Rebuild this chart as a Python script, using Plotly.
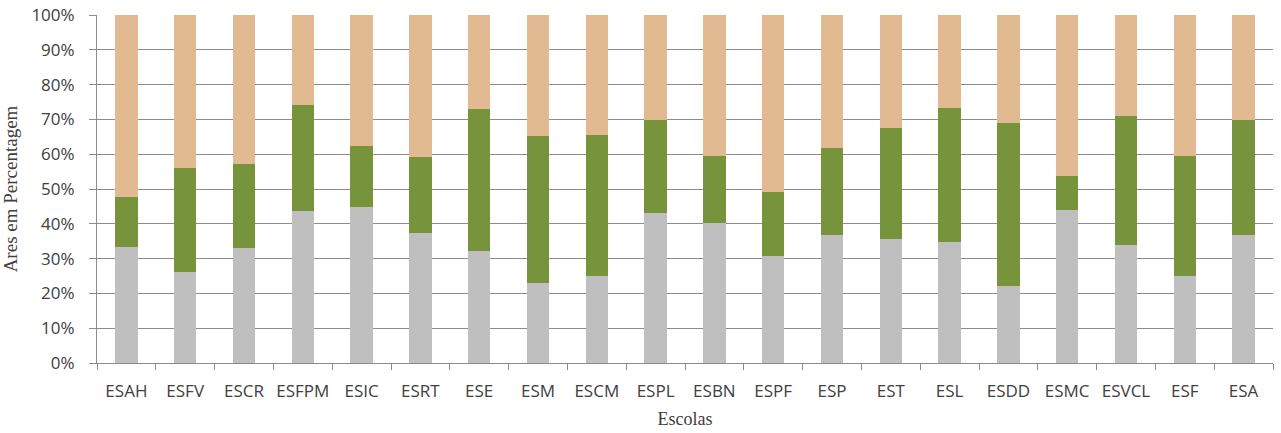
import plotly.graph_objects as go

escolas = ["ESAH", "ESFV", "ESCR", "ESFPM", "ESIC", "ESRT", "ESE", "ESM", "ESCM", "ESPL",
           "ESBN", "ESPF", "ESP", "EST", "ESL", "ESDD", "ESMC", "ESVCL", "ESF", "ESA"]
serie_cinza = [33.4, 26.1, 33.0, 43.8, 44.9, 37.3, 32.2, 23.1, 25.0, 43.1,
               40.1, 30.8, 36.8, 35.7, 34.7, 22.0, 44.1, 34.0, 24.9, 36.8]
serie_verde = [14.4, 29.9, 24.2, 30.2, 17.6, 22.0, 40.7, 42.1, 40.5, 26.6,
               19.3, 18.2, 25.0, 31.9, 38.7, 46.9, 9.7, 37.0, 34.6, 32.9]
serie_bege = [round(100 - a - b, 1) for a, b in zip(serie_cinza, serie_verde)]

fig = go.Figure()
fig.add_bar(x=escolas, y=serie_cinza, name="Série 1", marker_color="#BFBFBF", marker_line_width=0)
fig.add_bar(x=escolas, y=serie_verde, name="Série 2", marker_color="#77933C", marker_line_width=0)
fig.add_bar(x=escolas, y=serie_bege, name="Série 3", marker_color="#E2BA92", marker_line_width=0)

sans = "Open Sans, Lato, sans-serif"
serif = "Liberation Serif, DejaVu Serif, serif"

fig.update_layout(
    barmode="stack",
    bargap=0.617,
    width=1281, height=433,
    margin=dict(l=97, r=8, t=15, b=70),
    paper_bgcolor="white", plot_bgcolor="white",
    showlegend=False,
    xaxis=dict(
        title=dict(text="Escolas", font=dict(family=serif, size=18, color="#404040"), standoff=10),
        tickfont=dict(family=sans, size=17, color="#404040"),
        tickangle=0, automargin=False,
        showline=True, linecolor="#8C8C8C", linewidth=1,
        ticks="outside", ticklen=6, tickcolor="#8C8C8C", tickson="boundaries",
        ticklabelstandoff=13,
        showgrid=False,
    ),
    yaxis=dict(
        title=dict(text="Ares em Percentagem", font=dict(family=serif, size=19, color="#404040"), standoff=14),
        tickfont=dict(family=sans, size=17, color="#404040"),
        automargin=False,
        range=[0, 100], tickvals=list(range(0, 101, 10)),
        ticktext=[f"{v}%" for v in range(0, 101, 10)],
        showline=True, linecolor="#8C8C8C", linewidth=1,
        ticks="outside", ticklen=7, tickcolor="#8C8C8C",
        ticklabelstandoff=11,
        showgrid=True, gridcolor="#8C8C8C", gridwidth=1,
        zeroline=False,
    ),
)

fig.write_html("out.html")
